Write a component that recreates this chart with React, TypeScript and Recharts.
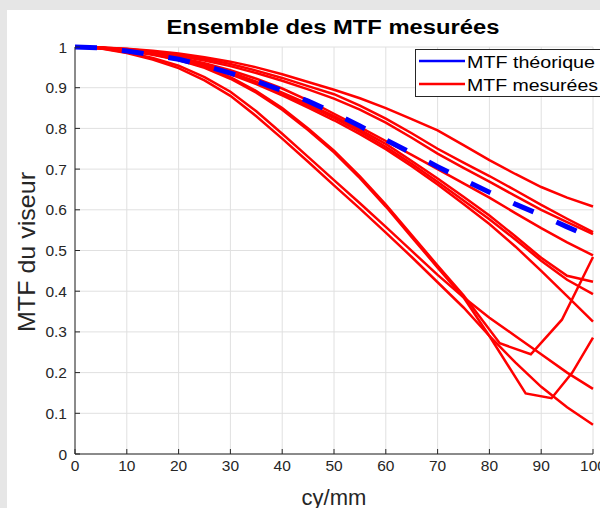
import React from "react";
import { LineChart, Line, XAxis, YAxis, CartesianGrid } from "recharts";

// spatial frequency samples (cy/mm)
const FREQ = [0, 5, 10, 15, 20, 25, 30, 35, 40, 45, 50, 55, 60, 65, 70, 75, 80, 85, 90, 95, 100];
const HOOK1_FREQ = [0, 5, 10, 15, 20, 25, 30, 35, 40, 45, 50, 55, 60, 65, 70, 75, 82, 88, 94, 100];
const HOOK2_FREQ = [0, 5, 10, 15, 20, 25, 30, 35, 40, 45, 50, 55, 60, 65, 70, 75, 80, 87, 92, 96, 100];

const MTF_THEO = [1, 0.998, 0.99, 0.981, 0.97, 0.954, 0.936, 0.916, 0.893, 0.867, 0.838, 0.806, 0.772, 0.739, 0.706, 0.674, 0.643, 0.614, 0.587, 0.558, 0.53];

const MTF_A = [1, 0.999, 0.996, 0.991, 0.984, 0.975, 0.964, 0.95, 0.933, 0.914, 0.895, 0.874, 0.85, 0.823, 0.795, 0.759, 0.722, 0.688, 0.656, 0.63, 0.608];
const MTF_B = [1, 0.999, 0.995, 0.989, 0.981, 0.971, 0.958, 0.942, 0.924, 0.904, 0.884, 0.856, 0.824, 0.788, 0.75, 0.716, 0.683, 0.648, 0.612, 0.578, 0.545];
const MTF_C = [1, 0.998, 0.994, 0.987, 0.978, 0.967, 0.953, 0.936, 0.917, 0.896, 0.873, 0.846, 0.814, 0.777, 0.738, 0.703, 0.669, 0.634, 0.6, 0.57, 0.54];
const MTF_D = [1, 0.998, 0.993, 0.985, 0.974, 0.96, 0.943, 0.922, 0.898, 0.869, 0.836, 0.803, 0.769, 0.735, 0.7, 0.665, 0.63, 0.592, 0.555, 0.52, 0.488];
const MTF_E = [1, 0.998, 0.992, 0.983, 0.971, 0.956, 0.938, 0.915, 0.888, 0.86, 0.83, 0.797, 0.762, 0.72, 0.677, 0.632, 0.586, 0.535, 0.482, 0.438, 0.423];
const MTF_F = [1, 0.998, 0.992, 0.982, 0.97, 0.954, 0.935, 0.912, 0.885, 0.856, 0.826, 0.792, 0.755, 0.713, 0.669, 0.623, 0.577, 0.527, 0.475, 0.428, 0.393];
const MTF_G = [1, 0.997, 0.991, 0.981, 0.968, 0.952, 0.933, 0.909, 0.881, 0.851, 0.82, 0.786, 0.749, 0.707, 0.662, 0.614, 0.565, 0.51, 0.45, 0.388, 0.325];
const MTF_L1 = [1, 0.997, 0.987, 0.973, 0.954, 0.926, 0.89, 0.842, 0.787, 0.73, 0.673, 0.616, 0.558, 0.499, 0.44, 0.385, 0.335, 0.29, 0.245, 0.2, 0.16];
const MTF_L2 = [1, 0.996, 0.985, 0.969, 0.948, 0.918, 0.88, 0.83, 0.775, 0.718, 0.66, 0.603, 0.544, 0.484, 0.422, 0.36, 0.29, 0.225, 0.165, 0.115, 0.072];
const MTF_H1 = [1, 0.998, 0.993, 0.984, 0.97, 0.952, 0.926, 0.892, 0.85, 0.8, 0.745, 0.682, 0.613, 0.538, 0.463, 0.39, 0.272, 0.245, 0.33, 0.484];
const MTF_H2 = [1, 0.998, 0.992, 0.983, 0.968, 0.949, 0.922, 0.888, 0.846, 0.796, 0.741, 0.678, 0.608, 0.533, 0.458, 0.385, 0.29, 0.149, 0.137, 0.2, 0.286];

const X_TICKS = [0, 10, 20, 30, 40, 50, 60, 70, 80, 90, 100];
const Y_TICKS = [0, 0.1, 0.2, 0.3, 0.4, 0.5, 0.6, 0.7, 0.8, 0.9, 1];

const FONT = "'Liberation Sans', Arial, sans-serif";

const toPoints = (f: number[], v: number[]) => f.map((x, i) => ({ f: x, v: v[i] }));

const measured = [
  toPoints(FREQ, MTF_A),
  toPoints(FREQ, MTF_B),
  toPoints(FREQ, MTF_C),
  toPoints(FREQ, MTF_D),
  toPoints(FREQ, MTF_E),
  toPoints(FREQ, MTF_F),
  toPoints(FREQ, MTF_G),
  toPoints(FREQ, MTF_L1),
  toPoints(FREQ, MTF_L2),
  toPoints(HOOK1_FREQ, MTF_H1),
  toPoints(HOOK2_FREQ, MTF_H2),
];
const theo = toPoints(FREQ, MTF_THEO);

const tickStyle = { fill: "#262626", fontSize: 15.5, fontFamily: FONT };

export default function App() {
  return (
    <div style={{ position: "absolute", left: 0, top: 0, width: 600, height: 508, background: "#e6e6e6", overflow: "hidden" }}>
      <div style={{ position: "absolute", left: 7, top: 10, right: 0, bottom: 0, background: "#fff" }} />
      <div style={{ position: "absolute", left: 0, top: 0 }}>
        <LineChart width={600} height={508} margin={{ top: 47, right: 7, left: 0, bottom: 0 }}>
          <CartesianGrid stroke="#e0e0e0" strokeWidth={1} />
          <XAxis
            type="number"
            dataKey="f"
            domain={[0, 100]}
            ticks={X_TICKS}
            interval={0}
            height={54}
            stroke="#262626"
            tick={tickStyle}
            tickSize={-5}
            tickMargin={11}
            allowDuplicatedCategory={false}
          />
          <YAxis
            type="number"
            dataKey="v"
            domain={[0, 1]}
            ticks={Y_TICKS}
            interval={0}
            width={75}
            stroke="#262626"
            tick={tickStyle}
            tickSize={-5}
            tickMargin={13}
          />
          {measured.map((d, i) => (
            <Line
              key={"m" + i}
              name={"mesure" + i}
              data={d}
              dataKey="v"
              type="linear"
              stroke="#ff0000"
              strokeWidth={2.5}
              dot={false}
              activeDot={false}
              isAnimationActive={false}
            />
          ))}
          <Line
            name="theorique"
            data={theo}
            dataKey="v"
            type="linear"
            stroke="#0000ff"
            strokeWidth={5}
            strokeDasharray="22 25"
            dot={false}
            activeDot={false}
            isAnimationActive={false}
          />
        </LineChart>
      </div>
      <svg width={600} height={508} style={{ position: "absolute", left: 0, top: 0 }} fontFamily={FONT}>
        <text x={333} y={34} textAnchor="middle" fontSize={20} fontWeight="bold" fill="#000" textLength={333} lengthAdjust="spacingAndGlyphs">
          Ensemble des MTF mesurées
        </text>
        <text transform="translate(35,252) rotate(-90)" textAnchor="middle" fontSize={24} fill="#262626" textLength={160} lengthAdjust="spacingAndGlyphs">
          MTF du viseur
        </text>
        <text x={334} y={505} textAnchor="middle" fontSize={22} fill="#262626">
          cy/mm
        </text>
        <rect x={415.5} y={49.5} width={200} height={47} fill="#fff" stroke="#262626" strokeWidth={1} />
        <line x1={419} x2={465} y1={61} y2={61} stroke="#0000ff" strokeWidth={2.5} />
        <line x1={419} x2={465} y1={84} y2={84} stroke="#ff0000" strokeWidth={2.5} />
        <text x={467} y={68} fontSize={16} fill="#000" textLength={128} lengthAdjust="spacingAndGlyphs">
          MTF théorique
        </text>
        <text x={467} y={91} fontSize={16} fill="#000" textLength={131} lengthAdjust="spacingAndGlyphs">
          MTF mesurées
        </text>
      </svg>
    </div>
  );
}
